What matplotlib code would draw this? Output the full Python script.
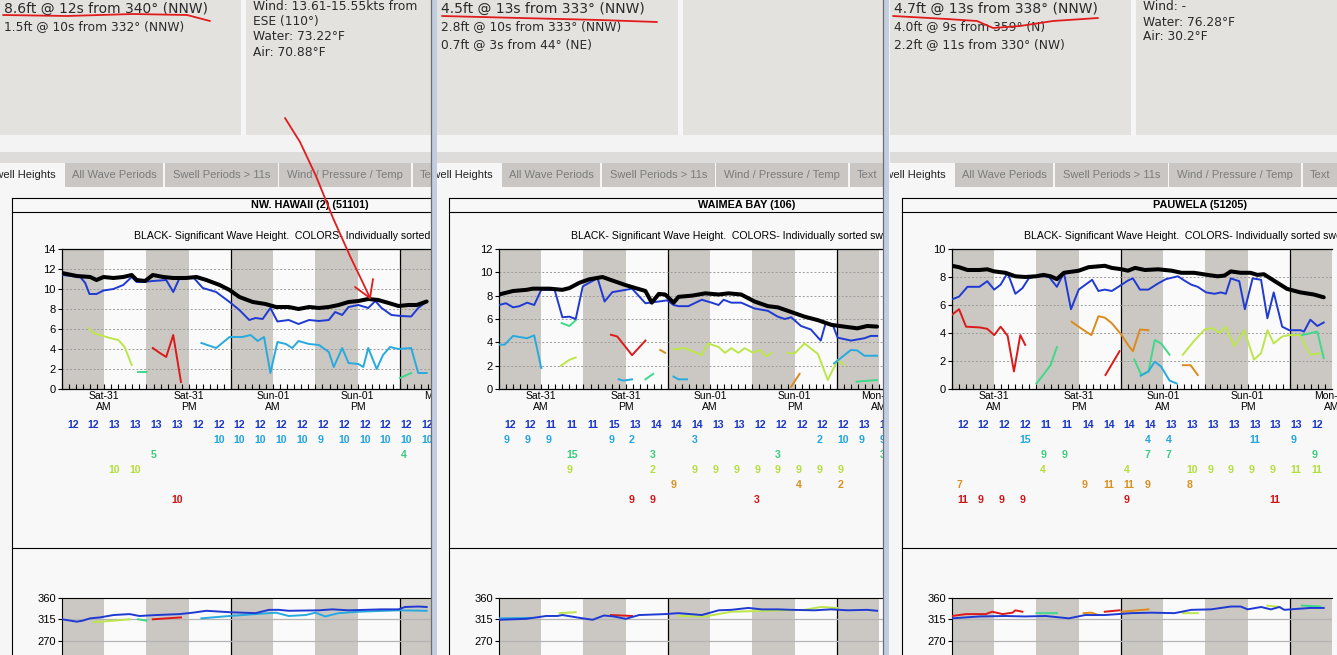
import numpy as np
import matplotlib
matplotlib.use('Agg')
import matplotlib.pyplot as plt
from matplotlib.patches import Rectangle
from matplotlib.transforms import blended_transform_factory

nan = np.nan
W, H = 1337, 655

# ---------------- data ----------------
day_labels = ['Sat-31\nAM', 'Sat-31\nPM', 'Sun-01\nAM', 'Sun-01\nPM', 'Mon-01\nAM']
day_label_hours = [6, 18, 30, 42, 54]

titles = ['NW. HAWAII (2) (51101)', 'WAIMEA BAY (106)', 'PAUWELA (51205)']
subtitle = 'BLACK- Significant Wave Height.  COLORS- Individually sorted swells'
tab_labels = ['Swell Heights', 'All Wave Periods', 'Swell Periods > 11s',
              'Wind / Pressure / Temp', 'Text']

p1_info = ['8.6ft @ 12s from 340° (NNW)', '1.5ft @ 10s from 332° (NNW)']
p1_cond = ['Wind: 13.61-15.55kts from', 'ESE (110°)', 'Water: 73.22°F', 'Air: 70.88°F']
p2_info = ['4.5ft @ 13s from 333° (NNW)', '2.8ft @ 10s from 333° (NNW)',
           '0.7ft @ 3s from 44° (NE)']
p2_cond = []
p3_info = ['4.7ft @ 13s from 338° (NNW)', '4.0ft @ 9s from 359° (N)',
           '2.2ft @ 11s from 330° (NW)']
p3_cond = ['Wind: -', 'Water: 76.28°F', 'Air: 30.2°F']

y_max = [14, 12, 10]

# wave heights (hour since Sat 00:00, feet)
p1_black = [(0, 11.6), (2.1, 11.3), (4, 11.2), (4.9, 10.9), (5.9, 11.2), (7.3, 11.1), (8.7, 11.2),
            (9.9, 11.4), (10.6, 10.9), (11.8, 10.8), (12.9, 11.4), (14.4, 11.2), (15.8, 11.1),
            (17.6, 11.1), (19.1, 11.2), (20.5, 10.9), (22.4, 10.4), (23.8, 9.9), (25.2, 9.2),
            (27.1, 8.7), (28.9, 8.5), (30.4, 8.2), (32.2, 8.2), (33.6, 8.0), (35.1, 8.2), (36.5, 8.1),
            (37.9, 8.2), (39.3, 8.4), (40.7, 8.7), (42.1, 8.8), (43.5, 9.0), (44.9, 8.9), (46.4, 8.6),
            (47.8, 8.3), (49.2, 8.4), (50.4, 8.4), (51.8, 8.75)]
p1_blue = [(0, 11.4), (2.6, 11.2), (3.3, 10.6), (3.9, 9.5), (4.9, 9.5), (5.9, 9.85), (7.3, 10.0),
           (8.7, 10.4), (9.9, 11.2), (10.6, 10.7), (11.5, 10.7), (12.9, 10.8), (14.8, 10.9),
           (15.8, 9.7), (16.7, 11.1), (18.6, 11.2), (20, 10.1), (21.9, 9.7), (23.8, 8.7), (25.2, 7.9),
           (26.6, 6.9), (27.5, 7.1), (28.5, 7.0), (29.6, 8.1), (30.6, 6.75), (32.2, 6.9), (33.6, 6.5),
           (35.1, 6.9), (36.5, 6.8), (37.9, 6.9), (38.8, 7.7), (39.8, 7.4), (40.7, 8.2), (42.1, 8.4),
           (43.5, 8.1), (44.5, 8.8), (45.4, 8.1), (46.8, 7.4), (48.2, 7.3), (49.6, 7.25), (50.6, 8.1),
           (51.8, 8.75)]
p1_cyan = [(19.8, 4.6), (21.9, 4.1), (23.8, 5.2), (25.6, 5.2), (26.8, 5.4), (27.8, 4.8), (28.7, 5.2),
           (29.6, 1.6), (30.6, 4.7), (31.8, 4.5), (32.7, 4.1), (33.6, 4.8), (35.1, 4.5), (36.5, 4.4),
           (37.9, 3.7), (38.6, 2.2), (39.8, 4.1), (40.7, 2.6), (42.1, 2.5), (42.8, 2.2), (43.5, 4.1),
           (44.7, 2.0), (45.6, 3.4), (46.6, 4.2), (47.8, 4.0), (49.6, 4.1), (50.6, 1.6), (51.8, 1.6)]
p1_green = [(10.8, 1.7), (12, 1.7), (nan, nan), (48, 1.1), (49.6, 1.6)]
p1_ygreen = [(3.8, 6.1), (4.5, 5.6), (5.4, 5.4), (6.8, 5.1), (8.0, 4.9), (8.9, 4.2), (9.9, 2.4)]
p1_orange = []
p1_red = [(12.9, 4.1), (13.9, 3.6), (14.8, 3.2), (15.8, 5.4), (16.9, 0.7)]

p2_black = [(0, 8.1), (2, 8.4), (3.9, 8.5), (4.8, 8.6), (7.2, 8.6), (9.0, 8.5), (10, 8.65), (11.4, 9.1),
            (12.8, 9.4), (14.7, 9.6), (16.1, 9.3), (18, 8.9), (19.4, 8.65), (20.8, 8.4), (21.7, 7.4),
            (22.7, 8.15), (23.6, 8.1), (24.8, 7.4), (25.5, 7.9), (27.4, 8.0), (29.3, 8.2), (31.2, 8.1),
            (32.6, 8.2), (34.4, 8.1), (36.3, 7.5), (38.2, 7.1), (39.6, 7.0), (41.5, 6.6), (43.4, 6.2),
            (45.3, 5.9), (47.2, 5.5), (49, 5.35), (50.9, 5.2), (52.3, 5.4), (53.7, 5.35)]
p2_blue = [(0, 7.2), (1, 7.35), (2, 7.0), (2.9, 7.1), (4, 7.4), (5, 7.2), (6, 8.5), (7.9, 8.5), (9, 6.15),
           (10, 6.2), (10.9, 6.0), (11.9, 8.8), (14, 9.5), (15, 7.5), (16.1, 8.3), (18, 8.5), (18.9, 8.6),
           (20.8, 7.35), (22.7, 7.5), (23.9, 7.6), (24.8, 7.2), (25.5, 7.1), (26.9, 7.1), (28.8, 7.65),
           (30.2, 7.4), (31.2, 7.2), (31.9, 7.65), (33, 7.4), (34.4, 7.4), (36.3, 6.9), (38.2, 6.7),
           (39.6, 6.2), (40.6, 6.0), (41.5, 6.15), (42.9, 5.4), (44.3, 5.1), (45.7, 4.15), (46.4, 5.65),
           (47.4, 5.5), (48.1, 4.4), (50, 4.15), (51.9, 4.35), (52.8, 4.55), (53.7, 4.55)]
p2_cyan = [(0, 3.8), (0.8, 3.8), (2, 4.55), (4, 4.35), (5, 4.6), (6, 1.8), (nan, nan),
           (17, 0.83), (17.7, 0.72), (18.9, 0.83), (nan, nan), (24.8, 1.06), (25.5, 0.83), (26.7, 0.83),
           (nan, nan), (47.6, 2.2), (50, 3.35), (50.9, 3.3), (51.9, 2.85), (53.7, 2.85)]
p2_green = [(8.9, 5.65), (10, 5.4), (10.9, 5.9), (nan, nan), (20.8, 0.83), (21.9, 1.3),
            (nan, nan), (50.8, 0.63), (53.7, 0.77)]
p2_ygreen = [(8.8, 2.0), (10, 2.5), (10.9, 2.7), (nan, nan), (24.8, 3.4), (26.4, 3.5), (28.8, 2.9),
             (29.7, 3.9), (31.2, 3.6), (32.1, 3.1), (33, 3.5), (34, 3.1), (34.9, 3.5), (36.1, 3.1),
             (37, 3.35), (38, 2.8), (38.7, 3.1), (nan, nan), (41, 3.1), (42, 3.05), (43.4, 3.9),
             (45.3, 3.0), (46.7, 0.77), (48.1, 2.5), (49, 2.05)]
p2_orange = [(22.9, 3.35), (23.6, 3.1), (nan, nan), (41.5, 0.2), (42.7, 1.3)]
p2_red = [(15.9, 4.65), (16.8, 4.5), (18.9, 2.9), (20.8, 4.15)]

p3_black = [(0, 8.8), (1, 8.7), (2.2, 8.5), (3.9, 8.5), (5, 8.55), (6, 8.4), (7.6, 8.3), (9, 8.05),
            (10.4, 8.0), (11.9, 8.05), (13, 8.15), (14, 8.05), (14.9, 7.85), (15.9, 8.3), (18, 8.45),
            (19.4, 8.7), (21.7, 8.8), (22.7, 8.65), (24.1, 8.55), (25, 8.45), (26, 8.65), (27.4, 8.5),
            (29.3, 8.55), (31.2, 8.45), (32.6, 8.3), (34.4, 8.3), (36.3, 8.15), (37.7, 8.05),
            (38.7, 8.1), (39.6, 8.4), (41, 8.3), (42.4, 8.3), (43.4, 8.15), (44.3, 8.2), (45.7, 7.75),
            (47.6, 7.15), (49.5, 6.9), (51.4, 6.75), (52.8, 6.55)]
p3_blue = [(0, 6.4), (1, 6.6), (2.2, 7.3), (3.9, 7.3), (5, 7.7), (6, 7.1), (6.9, 7.45), (7.9, 8.3),
           (9, 6.8), (10, 7.2), (10.9, 7.9), (11.9, 8.05), (13.7, 8.05), (14.9, 7.3), (15.9, 8.3),
           (16.9, 5.7), (18, 7.1), (19.9, 7.8), (20.8, 7.0), (21.7, 7.1), (22.7, 7.0), (24.1, 7.45),
           (25, 7.75), (25.7, 7.9), (26.7, 7.1), (27.9, 7.1), (29.3, 7.55), (30.4, 7.85), (32.1, 8.05),
           (33, 7.75), (34, 7.45), (34.9, 7.3), (36.1, 6.9), (37.3, 6.8), (38.2, 6.9), (38.9, 6.8),
           (39.6, 7.9), (40.8, 7.7), (41.6, 5.7), (42.7, 7.9), (43.9, 7.8), (44.8, 5.05), (45.7, 6.9),
           (46.9, 4.45), (47.9, 4.2), (49.5, 4.2), (50, 4.1), (50.9, 4.95), (51.9, 4.5), (52.8, 4.75)]
p3_cyan = [(26.8, 0.95), (27.9, 1.25), (28.8, 1.95), (29.7, 1.6), (30.9, 0.6), (31.9, 0.4)]
p3_green = [(12, 0.4), (12.8, 0.9), (14, 1.7), (14.9, 3.0), (nan, nan), (25.9, 2.1), (26.9, 1.0),
            (27.9, 1.25), (28.8, 3.5), (29.7, 3.25), (30.9, 2.45), (nan, nan), (49.7, 3.85),
            (51.9, 4.1), (52.8, 2.2)]
p3_ygreen = [(32.8, 2.45), (34.4, 3.45), (35.9, 4.25), (37, 4.35), (38, 4.0), (38.9, 4.45),
             (40.1, 3.05), (41.5, 4.2), (42.9, 2.1), (43.9, 2.55), (44.8, 4.2), (45.7, 3.25),
             (46.9, 3.75), (47.9, 3.85), (49.5, 3.85), (50.2, 3.05), (50.9, 2.45), (52.3, 2.55)]
p3_orange = [(17, 4.8), (18.7, 4.2), (19.8, 3.85), (20.8, 5.2), (21.7, 5.1), (22.7, 4.7), (24.1, 3.85),
             (25, 3.15), (25.7, 2.7), (26.7, 4.25), (27.9, 4.2), (nan, nan), (32.8, 1.7), (33.9, 1.7),
             (34.9, 1.0)]
p3_red = [(0, 5.3), (1, 5.7), (2, 4.45), (3.9, 4.4), (5, 4.3), (6, 3.85), (6.9, 4.45), (7.9, 3.8),
          (8.8, 1.25), (9.7, 3.85), (10.4, 3.15), (nan, nan), (21.8, 1.0), (23.8, 2.7)]

# swell directions (degrees)
p1_dir_blue = [(0, 315), (2.1, 310), (2.9, 312), (4, 317), (5.4, 319), (7.3, 324), (9.6, 326), (11, 322),
               (13.4, 324), (16.7, 326), (18.6, 329), (20.5, 333), (23.8, 330), (27.5, 328), (29.4, 335),
               (30.8, 335), (32.2, 333), (36.5, 334), (38.4, 336), (40.7, 334), (43.1, 335), (45.4, 336),
               (47.8, 336), (48.7, 341), (50.6, 342), (51.8, 341)]
p1_dir_cyan = [(19.8, 317), (23.8, 322), (27.5, 326), (30.4, 329), (32.2, 322), (34.6, 324), (36, 329),
               (37.4, 321), (39.3, 328), (42.1, 331), (47.8, 334), (51.8, 333)]
p1_dir_green = [(10.8, 315), (12, 312)]
p1_dir_ygreen = [(4.5, 309), (7.3, 312), (9.6, 315)]
p1_dir_orange = []
p1_dir_red = [(12.9, 315), (16.9, 319)]

p2_dir_blue = [(0, 314), (3.9, 316), (6.7, 322), (8.3, 322), (9, 324), (11.9, 317), (13.3, 314),
               (14.9, 323), (16.3, 321), (18, 316), (19.9, 324), (23.6, 326), (25.5, 328), (28.8, 324),
               (31.2, 334), (33, 335), (35.4, 339), (37.3, 336), (39.6, 336), (41.5, 335), (44.8, 334),
               (47.2, 336), (49.5, 334), (52.3, 335), (53.7, 333)]
p2_dir_cyan = [(0, 317), (4.5, 318)]
p2_dir_green = []
p2_dir_ygreen = [(8.6, 328), (10.9, 330), (nan, nan), (25.5, 322), (29.3, 321), (33, 331),
                 (43.4, 335), (45.7, 341), (48.1, 339)]
p2_dir_orange = []
p2_dir_red = [(15.9, 324), (18.9, 322)]

p3_dir_blue = [(0, 317), (3.9, 321), (7.6, 322), (10.4, 321), (13.3, 322), (16.6, 317), (18.9, 324),
               (21.7, 324), (25.5, 328), (28.3, 329), (31.6, 328), (34, 335), (36.8, 336), (39.6, 342),
               (41, 342), (42, 336), (43.9, 341), (45.3, 336), (46.5, 341), (47.2, 335), (49, 337),
               (50.9, 339), (52.8, 339)]
p3_dir_cyan = []
p3_dir_green = [(12, 328), (14.9, 328), (nan, nan), (49.7, 344), (52.3, 342)]
p3_dir_ygreen = [(32.8, 328), (34.9, 328), (nan, nan), (44.8, 344), (46.6, 341)]
p3_dir_orange = [(18.7, 328), (19.8, 329), (20.8, 324), (nan, nan), (24.1, 331), (27.9, 336)]
p3_dir_red = [(0, 322), (2, 326), (4.8, 326), (5.7, 331), (7.2, 326), (8.6, 329), (9, 334), (10, 331),
              (nan, nan), (21.7, 331), (23.8, 334)]

# peak periods, one row per swell colour, {3-hour slot: seconds}
p1_per_blue = [12, 12, 13, 13, 13, 13, 12, 12, 12, 12, 12, 12, 12, 12, 12, 12, 12, 12]
p1_per_cyan = {7: 10, 8: 10, 9: 10, 10: 10, 11: 10, 12: 9, 13: 10, 14: 10, 15: 10, 16: 10, 17: 10}
p1_per_green = {4: 5, 16: 4}
p1_per_ygreen = {2: 10, 3: 10}
p1_per_orange = {}
p1_per_red = {5: 10}

p2_per_blue = [12, 12, 11, 11, 11, 15, 13, 14, 14, 14, 13, 13, 12, 12, 12, 12, 12, 13, 13]
p2_per_cyan = {0: 9, 1: 9, 2: 9, 5: 9, 6: 2, 9: 3, 15: 2, 16: 10, 17: 9, 18: 9}
p2_per_green = {3: 15, 7: 3, 13: 3, 18: 3}
p2_per_ygreen = {3: 9, 7: 2, 9: 9, 10: 9, 11: 9, 12: 9, 13: 9, 14: 9, 15: 9, 16: 9}
p2_per_orange = {8: 9, 14: 4, 16: 2}
p2_per_red = {6: 9, 7: 9, 12: 3}

p3_per_blue = [12, 12, 12, 12, 11, 11, 14, 14, 14, 14, 13, 13, 13, 13, 13, 13, 13, 12]
p3_per_cyan = {3: 15, 9: 4, 10: 4, 14: 11, 16: 9}
p3_per_green = {4: 9, 5: 9, 9: 7, 10: 7, 17: 9}
p3_per_ygreen = {4: 4, 8: 4, 11: 10, 12: 9, 13: 9, 14: 9, 15: 9, 16: 11, 17: 11}
p3_per_orange = {0: 7, 6: 9, 7: 11, 8: 11, 9: 9, 11: 8}
p3_per_red = {0: 11, 1: 9, 2: 9, 3: 9, 8: 9, 15: 11}

# red hand drawn marks on the screenshot (pixels)
mark_underline1 = [(3, 15), (67, 16), (133, 14), (187, 15), (210, 21)]
mark_underline2 = [(442, 16), (520, 18), (600, 20), (657, 22)]
mark_underline3 = [(893, 16), (947, 19), (977, 21), (993, 28), (1020, 26), (1053, 21), (1098, 18)]
mark_arrow = [(285, 118), (300, 142), (316, 176), (333, 218), (350, 256), (363, 283), (370, 298)]
mark_arrow_head = [(355, 287), (370, 298), (373, 279)]

# ---------------- styling ----------------
BLUE, CYAN, GREEN, YGREEN, ORANGE, RED = '#1f3ad2', '#28aade', '#3fd98a', '#bce64a', '#dc8a1c', '#dc1a1a'
PER_COLORS = ['#1a36c6', '#24a4dc', '#3acb7e', '#b4de3e', '#d99020', '#d01414']
PAGE, INFO_BG, STRIP, TAB_BG, BAND = '#f6f6f6', '#e4e2df', '#dddcdb', '#c9c6c3', '#cbc7c3'
SANS = 'Liberation Sans'
PX_PER_HOUR = 7.04


def px_axes(left, top, width, height, **kw):
    return fig.add_axes([left / W, 1 - (top + height) / H, width / W, height / H], **kw)


def xy(points):
    if not points:
        return [], []
    a = np.array(points, dtype=float)
    return a[:, 0], a[:, 1]


def shade(ax, xmax):
    for s in np.arange(0, xmax, 12):
        ax.axvspan(s, s + 6, color=BAND, lw=0, zorder=0)
    for d in (24, 48):
        ax.axvline(d, color='black', lw=0.9, zorder=1)


def draw_panel(x0, x1, plot_right, title, info, cond, ymax, heights, dirs, periods):
    pax = px_axes(x0, 0, x1 - x0, H)
    pax.set_xlim(x0, x1)
    pax.set_ylim(H, 0)
    pax.axis('off')
    pax.set_zorder(0)

    def box(x, y, w, h, c):
        pax.add_patch(Rectangle((x, y), w, h, color=c, lw=0))

    box(x0, 0, x1 - x0, H, PAGE)
    box(x0, 0, 241, 135, INFO_BG)
    box(x0 + 246, 0, x1 - x0 - 246, 135, INFO_BG)
    box(x0, 135, x1 - x0, 17, '#f3f3f3')
    box(x0, 152, x1 - x0, 11, STRIP)

    # info texts
    for i, line in enumerate(info):
        pax.text(x0 + 4, 9 + 18 * i, line, fontsize=10 if i == 0 else 8.8, color='#2a2a2a',
                 va='center', ha='left', family='DejaVu Sans', clip_on=True)
    for i, line in enumerate(cond):
        pax.text(x0 + 253, 7 + 15 * i, line, fontsize=8.8, color='#2a2a2a',
                 va='center', ha='left', family='DejaVu Sans', clip_on=True)

    # tabs
    tab_edges = [(-40, 64), (65, 163), (165, 278), (279, 411), (413, 480)]
    for k, (lab, (a, b)) in enumerate(zip(tab_labels, tab_edges)):
        box(x0 + a, 163, b - a, 24, PAGE if k == 0 else TAB_BG)
        if k == 0:
            tx, ha, col = x0 + 56, 'right', '#222222'
        elif k == 4:
            tx, ha, col = x0 + 420, 'left', '#7c7c7c'
        else:
            tx, ha, col = x0 + (a + b) / 2, 'center', '#7c7c7c'
        pax.text(tx, 175.5, lab, fontsize=8, color=col, ha=ha, va='center',
                 family=SANS, clip_on=True)

    # chart frame
    fx = x0 + 12
    box(fx, 198, x1 - fx, H - 198, '#f8f8f8')
    for yy in (198, 212, 548):
        pax.plot([fx, x1 + 5], [yy, yy], color='black', lw=0.8)
    pax.plot([fx, fx], [198, H + 5], color='black', lw=0.8)
    pax.text(x0 + 310, 205.5, title, fontsize=7.8, fontweight='bold', family=SANS,
             ha='center', va='center', clip_on=True)
    pax.text(x0 + 134, 236, subtitle, fontsize=7.6, family=SANS, ha='left', va='center',
             clip_on=True)

    # wave height chart
    left = x0 + 62
    pw = plot_right - left
    xmax = pw / PX_PER_HOUR
    cax = px_axes(left, 249, pw, 140)
    cax.set_zorder(2)
    cax.set_facecolor('#fafafa')
    cax.set_xlim(0, xmax)
    cax.set_ylim(0, ymax)
    shade(cax, xmax)
    for yv in range(2, ymax, 2):
        cax.axhline(yv, color='#9c9c9c', lw=0.7, ls=(0, (2, 2)), zorder=1)
    for color, pts in heights:
        hx, hy = xy(pts)
        if color == 'black':
            cax.plot(hx, hy, color='black', lw=2.9, zorder=4, solid_capstyle='round')
        else:
            cax.plot(hx, hy, color=color, lw=1.4, zorder=3)
    cax.set_xticks(np.arange(0, xmax, 1))
    cax.tick_params(axis='x', direction='in', length=3.5, width=0.8, labelbottom=False)
    cax.set_yticks(range(0, ymax + 1, 2))
    cax.tick_params(axis='y', direction='out', length=3, width=0.8, pad=1.5, labelsize=8)
    for t in cax.get_yticklabels():
        t.set_family(SANS)
    cax.spines['right'].set_visible(False)
    for s in ('top', 'left', 'bottom'):
        cax.spines[s].set_linewidth(0.9)

    tr = blended_transform_factory(cax.transData, pax.transData)
    for lab, hr in zip(day_labels, day_label_hours):
        pax.text(hr, 391, lab, transform=tr, fontsize=7.5, family=SANS, ha='center',
                 va='top', linespacing=1.15, clip_on=True)

    # period table
    for row, (pcol, per) in enumerate(zip(PER_COLORS, periods)):
        items = enumerate(per) if isinstance(per, list) else per.items()
        for slot, val in items:
            pax.text(0.7 + 2.963 * slot, 425 + 15 * row, str(val), transform=tr, color=pcol,
                     fontsize=7.6, fontweight='bold', family=SANS, ha='left', va='center',
                     clip_on=True)

    # direction chart
    dax = px_axes(left, 598, pw, 62)
    dax.set_zorder(2)
    dax.set_facecolor('#fafafa')
    dax.set_xlim(0, xmax)
    dax.set_ylim(360 - 62 * 45 / 21.3, 360)
    shade(dax, xmax)
    for yv in (315, 270):
        dax.axhline(yv, color='#b4b4b4', lw=0.9, zorder=1)
    for color, pts in dirs:
        hx, hy = xy(pts)
        dax.plot(hx, hy, color=color, lw=1.4, zorder=3)
    dax.set_xticks([])
    dax.set_yticks([270, 315, 360])
    dax.tick_params(axis='y', direction='out', length=3, width=0.8, pad=1.5, labelsize=8)
    for t in dax.get_yticklabels():
        t.set_family(SANS)
    for s in ('right', 'bottom'):
        dax.spines[s].set_visible(False)
    return pax


fig = plt.figure(figsize=(W / 100, H / 100), dpi=100)
fig.patch.set_facecolor(PAGE)

panels = [
    (0, 430.5, 430.5, titles[0], p1_info, p1_cond, y_max[0],
     [(YGREEN, p1_ygreen), (GREEN, p1_green), (RED, p1_red), (ORANGE, p1_orange), (CYAN, p1_cyan),
      (BLUE, p1_blue), ('black', p1_black)],
     [(YGREEN, p1_dir_ygreen), (GREEN, p1_dir_green), (RED, p1_dir_red), (ORANGE, p1_dir_orange),
      (CYAN, p1_dir_cyan), (BLUE, p1_dir_blue)],
     [p1_per_blue, p1_per_cyan, p1_per_green, p1_per_ygreen, p1_per_orange, p1_per_red]),
    (437, 882.5, 882.5, titles[1], p2_info, p2_cond, y_max[1],
     [(YGREEN, p2_ygreen), (GREEN, p2_green), (RED, p2_red), (ORANGE, p2_orange), (CYAN, p2_cyan),
      (BLUE, p2_blue), ('black', p2_black)],
     [(YGREEN, p2_dir_ygreen), (GREEN, p2_dir_green), (RED, p2_dir_red), (ORANGE, p2_dir_orange),
      (CYAN, p2_dir_cyan), (BLUE, p2_dir_blue)],
     [p2_per_blue, p2_per_cyan, p2_per_green, p2_per_ygreen, p2_per_orange, p2_per_red]),
    (890, 1337, 1332, titles[2], p3_info, p3_cond, y_max[2],
     [(YGREEN, p3_ygreen), (GREEN, p3_green), (RED, p3_red), (ORANGE, p3_orange), (CYAN, p3_cyan),
      (BLUE, p3_blue), ('black', p3_black)],
     [(YGREEN, p3_dir_ygreen), (GREEN, p3_dir_green), (RED, p3_dir_red), (ORANGE, p3_dir_orange),
      (CYAN, p3_dir_cyan), (BLUE, p3_dir_blue)],
     [p3_per_blue, p3_per_cyan, p3_per_green, p3_per_ygreen, p3_per_orange, p3_per_red]),
]
for p in panels:
    draw_panel(*p)

# separators between the three browser windows + red annotations
oax = fig.add_axes([0, 0, 1, 1])
oax.set_xlim(0, W)
oax.set_ylim(H, 0)
oax.axis('off')
oax.set_zorder(10)
for sx in (430.5, 882.5):
    oax.add_patch(Rectangle((sx + 0.5, 0), 6, H, color='#c3cde1', lw=0))
    oax.plot([sx, sx], [0, H], color='#6e6e6e', lw=0.9)
for pts in (mark_underline1, mark_underline2, mark_underline3, mark_arrow, mark_arrow_head):
    mx, my = xy(pts)
    oax.plot(mx, my, color='#e01c1c', lw=1.3, solid_capstyle='round', solid_joinstyle='round')

fig.savefig('out.png', dpi=100, facecolor=fig.get_facecolor())
